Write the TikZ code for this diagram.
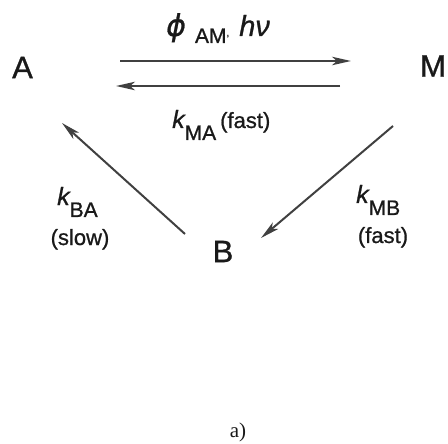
\documentclass[tikz,border=0pt]{standalone}
\usepackage{fontspec}
\setmainfont{Liberation Sans}[FakeBold=0.9]
\newfontfamily\serifaf{Liberation Serif}
\newfontfamily\phifam{DejaVu Sans}[FakeBold=0.9]
\usetikzlibrary{arrows.meta}
\newcommand\mainfs{\fontsize{31}{31}\selectfont}
\newcommand\kfs{\fontsize{25}{25}\selectfont\itshape}
\newcommand\subfs{\fontsize{21}{21}\selectfont\upshape}
\newcommand\parfs{\fontsize{22}{22}\selectfont\upshape}
\newcommand\ksub[1]{\raisebox{-12pt}{\subfs #1}}
\tikzset{
  species/.style={inner sep=0pt, font=\mainfs, text=black!90},
  lbl/.style={inner sep=0pt, text=black!90},
  rxn/.style={line width=2pt, draw=black!75, -{Stealth[length=19pt,width=8.5pt,inset=5pt]}},
}
\begin{document}
\begin{tikzpicture}[x=1pt,y=1pt]
\useasboundingbox (0,0) rectangle (448,-444);
% species
\node[species] (A) at (22.5,-67.5) {A};
\node[species] (M) at (433,-66) {M};
\node[species] (B) at (223,-251.5) {B};
% arrow end points
\coordinate (am1) at (120,-61);
\coordinate (am2) at (351,-61);
\coordinate (ma1) at (340,-86);
\coordinate (ma2) at (116,-86);
\coordinate (ba1) at (185,-234);
\coordinate (ba2) at (62,-123);
\coordinate (mb1) at (393,-126);
\coordinate (mb2) at (261,-238);
\draw[rxn] (am1) -- (am2);
\draw[rxn] (ma1) -- (ma2);
\draw[rxn] (ba1) -- (ba2);
\draw[rxn] (mb1) -- (mb2);
% labels
\node[lbl, anchor=base west] (lAM) at (166,-36)
  {{\phifam\fontsize{30}{30}\selectfont\itshape ϕ}\hspace{9pt}\raisebox{-7pt}{\subfs AM},\hspace{10pt}{\fontsize{29}{29}\selectfont\itshape hν}};
\node[lbl, anchor=base west] (lMA) at (172,-128)
  {{\kfs k}\ksub{MA}\hspace{4pt}{\parfs (fast)}};
\node[lbl, anchor=base west] (lBA) at (57,-205) {{\kfs k}\ksub{BA}};
\node[lbl, anchor=base] (sBA) at (80,-245) {\parfs (slow)};
\node[lbl, anchor=base west] (lMB) at (356,-203) {{\kfs k}\ksub{MB}};
\node[lbl, anchor=base] (sMB) at (383,-243) {\parfs (fast)};
\node[lbl, anchor=base] (cap) at (238,-437) {\serifaf\fontsize{21}{21}\selectfont a)};
\end{tikzpicture}
\end{document}
